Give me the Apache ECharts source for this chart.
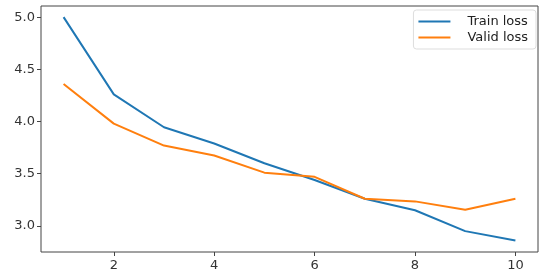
<!DOCTYPE html>
<html>
<head>
<meta charset="utf-8">
<script src="https://cdn.jsdelivr.net/npm/echarts@6/dist/echarts.min.js"></script>
<style>
  html, body { margin: 0; padding: 0; background: #fff; }
  #chart { width: 550px; height: 276px; }
</style>
</head>
<body>
<div id="chart"></div>
<script>
// 数据
var epochs = [1, 2, 3, 4, 5, 6, 7, 8, 9, 10];
var trainLoss = [5.0, 4.26, 3.945, 3.79, 3.60, 3.44, 3.26, 3.15, 2.95, 2.86];
var validLoss = [4.36, 3.98, 3.77, 3.675, 3.51, 3.47, 3.26, 3.235, 3.155, 3.26];
var xTicks = [2, 4, 6, 8, 10];
var yTicks = [3.0, 3.5, 4.0, 4.5, 5.0];

function pairs(ys) {
  return epochs.map(function (x, i) { return [x, ys[i]]; });
}

var myChart = echarts.init(document.getElementById('chart'));
var tickFont = { color: '#333', fontSize: 13, fontFamily: 'DejaVu Sans' };

var option = {
  animation: false,
  grid: {
    left: 41, right: 12, top: 6, bottom: 24,
    show: true,
    borderColor: '#444',
    borderWidth: 1
  },
  legend: {
    orient: 'vertical',
    right: 14,
    top: 10,
    icon: 'rect',
    itemWidth: 32,
    itemHeight: 2,
    itemGap: 3,
    padding: [5, 8, 5, 5],
    borderColor: '#ddd',
    borderWidth: 1,
    borderRadius: 3,
    textStyle: { color: '#222', fontSize: 13, fontFamily: 'DejaVu Sans', padding: [0, 0, 0, 12] },
    data: ['Train loss', 'Valid loss']
  },
  xAxis: {
    type: 'value',
    min: 0.55,
    max: 10.45,
    axisLine: { show: false },
    splitLine: { show: false },
    axisTick: { show: true, length: 4, customValues: xTicks, lineStyle: { color: '#444' } },
    axisLabel: Object.assign({ customValues: xTicks, margin: 7 }, tickFont)
  },
  yAxis: {
    type: 'value',
    min: 2.75,
    max: 5.107,
    axisLine: { show: false },
    splitLine: { show: false },
    axisTick: { show: true, length: 4, customValues: yTicks, lineStyle: { color: '#444' } },
    axisLabel: Object.assign({
      customValues: yTicks,
      margin: 6,
      formatter: function (v) { return v.toFixed(1); }
    }, tickFont)
  },
  series: [
    {
      name: 'Train loss',
      type: 'line',
      showSymbol: false,
      color: '#1f77b4',
      lineStyle: { width: 2 },
      data: pairs(trainLoss)
    },
    {
      name: 'Valid loss',
      type: 'line',
      showSymbol: false,
      color: '#ff7f0e',
      lineStyle: { width: 2 },
      data: pairs(validLoss)
    }
  ]
};

myChart.setOption(option);
</script>
</body>
</html>
